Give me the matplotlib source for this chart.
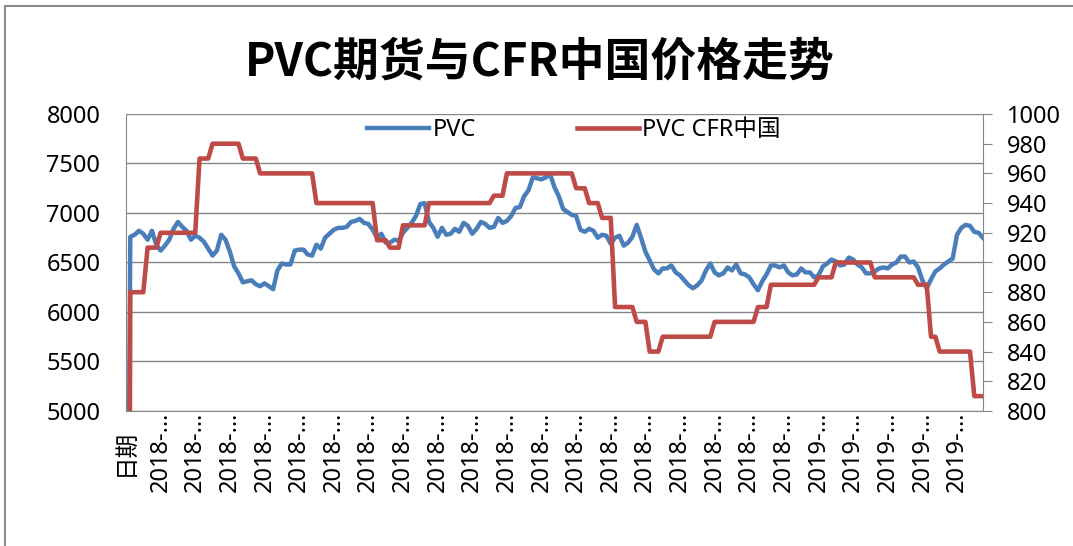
import matplotlib.pyplot as plt
import numpy as np
from matplotlib.patches import Rectangle

plt.rcParams['font.family'] = ['Noto Sans', 'Noto Sans CJK SC']

# first category is the header row "日期" (value 0, Excel style)
PVC = [0,
       6760, 6780, 6820, 6790, 6730, 6820, 6680, 6620, 6670, 6730,
       6840, 6910, 6860, 6820, 6730, 6770, 6750, 6710, 6640, 6570,
       6620, 6780, 6730, 6610, 6460, 6390, 6300, 6310, 6320, 6280,
       6260, 6290, 6260, 6230, 6420, 6490, 6480, 6480, 6620, 6630,
       6630, 6580, 6570, 6680, 6640, 6750, 6790, 6830, 6850, 6850,
       6860, 6910, 6920, 6940, 6900, 6890, 6830, 6750, 6790, 6700,
       6700, 6730, 6720, 6800, 6850, 6900, 6970, 7090, 7100, 6910,
       6850, 6760, 6850, 6780, 6790, 6840, 6810, 6900, 6870, 6790,
       6840, 6910, 6890, 6850, 6860, 6950, 6900, 6920, 6970, 7050,
       7060, 7170, 7230, 7360, 7350, 7340, 7360, 7390, 7260, 7170,
       7040, 7010, 6980, 6970, 6830, 6810, 6840, 6820, 6750, 6780,
       6770, 6690, 6750, 6770, 6670, 6700, 6760, 6880, 6750, 6610,
       6520, 6430, 6390, 6440, 6440, 6470, 6400, 6370, 6320, 6270,
       6240, 6270, 6320, 6420, 6490, 6400, 6370, 6390, 6450, 6420,
       6480, 6390, 6380, 6350, 6280, 6220, 6310, 6380, 6470, 6470,
       6450, 6470, 6400, 6370, 6380, 6440, 6400, 6400, 6350, 6370,
       6460, 6490, 6530, 6510, 6470, 6480, 6550, 6530, 6480, 6450,
       6390, 6390, 6410, 6440, 6450, 6440, 6480, 6500, 6560, 6560,
       6500, 6510, 6450, 6320, 6240, 6330, 6410, 6440, 6480, 6510,
       6540, 6780, 6850, 6880, 6870, 6810, 6800, 6750]

# CFR China price is weekly, so it is held flat between quotes
CFR_LEVELS = [0, 880, 910, 920, 970, 980, 970, 960, 940, 915, 910, 925, 940, 945,
              960, 950, 940, 930, 870, 860, 840, 850, 860, 870, 885, 890, 900, 890,
              885, 850, 840, 810]
CFR_DAYS = [1, 4, 3, 9, 3, 7, 4, 13, 14, 3, 3, 6, 15, 3,
            16, 3, 3, 3, 5, 3, 3, 12, 10, 3, 11, 4, 9, 10,
            3, 2, 8, 3]

TICK_LABELS = ['日期'] + ['2018-…'] * 19 + ['2019-…'] * 5
TICK_EVERY = 8

BLUE = '#4A7EBB'
RED = '#BE4B48'
GREY = '#868686'

x = np.arange(len(PVC))
cfr = np.repeat(CFR_LEVELS, CFR_DAYS)

fig = plt.figure(figsize=(10.73, 5.46), dpi=100)
ax = fig.add_axes([0.1174, 0.2473, 0.7987, 0.5439])
ax.plot(x, PVC, color=BLUE, lw=3.2, label='PVC')
ax2 = ax.twinx()
ax2.plot(x, cfr, color=RED, lw=3.3, label='PVC CFR中国')

ax.set_xlim(0, len(PVC) - 1)
ax.set_ylim(5000, 8000)
ax.set_yticks(np.arange(5000, 8001, 500))
ax2.set_ylim(800, 1000)
ax2.set_yticks(np.arange(800, 1001, 20))

ax.set_xticks(np.arange(len(TICK_LABELS)) * TICK_EVERY)
ax.set_xticklabels(TICK_LABELS, rotation=90, va='center')

ax.grid(axis='y', color=GREY, lw=1)
ax.set_axisbelow(True)

for a in (ax, ax2):
    a.spines['top'].set_visible(False)
    for s in ('left', 'right', 'bottom'):
        a.spines[s].set_color(GREY)
ax.spines['right'].set_visible(False)
ax2.spines['left'].set_visible(False)
ax2.spines['bottom'].set_visible(False)

ax.tick_params(axis='y', length=0, pad=18.5, labelsize=17)
ax.tick_params(axis='x', length=0, pad=29.5, labelsize=17)
ax2.tick_params(axis='y', length=6.5, color=GREY, pad=11, labelsize=17)

h1, l1 = ax.get_legend_handles_labels()
h2, l2 = ax2.get_legend_handles_labels()
ax2.legend(h1 + h2, l1 + l2, loc='center', bbox_to_anchor=(0.535, 0.762),
           bbox_transform=fig.transFigure, ncol=2, frameon=False, fontsize=17,
           handlelength=2.6, handletextpad=0.15, columnspacing=4.3)

fig.text(0.503, 0.886, 'PVC期货与CFR中国价格走势', ha='center', va='center',
         fontsize=33, fontweight='bold', family=['Noto Sans CJK SC'])

fig.patches.append(Rectangle((5 / 1073, -0.1), 1.2, 1.1 - 6 / 546,
                             transform=fig.transFigure, fill=False,
                             edgecolor='#8C8C8C', lw=1.5))

fig.savefig('out.png', dpi=100)
